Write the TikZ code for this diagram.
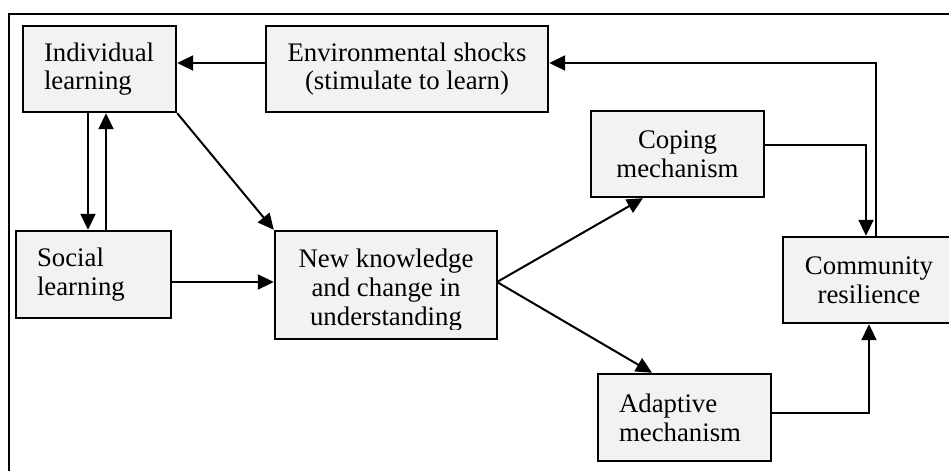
\documentclass[tikz,border=0pt]{standalone}
\usepackage{fontspec}
\setmainfont{Liberation Serif}
\usetikzlibrary{arrows.meta,calc}
\definecolor{boxfill}{HTML}{F2F2F2}
\tikzset{
  box/.style={draw=black, line width=1.2pt, fill=boxfill, inner sep=0pt,
    font=\fontsize{13.4}{14.4}\selectfont},
  ctext/.style={align=center},
  ltext/.style={align=left, inner xsep=10.5pt},
  link/.style={line width=1pt, -{Triangle[length=8pt,width=7.5pt]}},
}
\begin{document}
\begin{tikzpicture}[x=0.5pt,y=-0.5pt]
\useasboundingbox (0,0) rectangle (949,471);
% outer frame, running off the page on the right and at the bottom
\draw[line width=1.1pt] (9,14) rectangle (980,500);

% boxes
\node[box, ltext, text width=55.5pt, minimum height=43pt] (ind) at (99.5,69)
  {Individual\\learning};
\node[box, ctext, minimum width=141pt, minimum height=43pt] (env) at (407,69)
  {Environmental shocks\\(stimulate to learn)};
\node[box, ltext, text width=56.5pt, minimum height=43.5pt] (soc) at (93.5,274.5)
  {Social\\learning};
\node[box, minimum width=111pt, minimum height=54pt] (know) at (386,285) {};
\begin{scope}
  \clip (275,231) rectangle (497,329.5);
  \node[box, draw=none, fill=none, ctext] (knowtext) at (386,290)
    {New knowledge\\and change in\\understanding};
\end{scope}
\node[box, ctext, minimum width=86.5pt, minimum height=43pt] (cope) at (677.5,154)
  {Coping\\mechanism};
\node[box, ctext, minimum width=86pt, minimum height=43pt] (comm) at (869,280)
  {Community\\resilience};
\node[box, ltext, text width=65.5pt, minimum height=43.5pt] (adap) at (684.5,417.5)
  {Adaptive\\mechanism};

% connectors
\coordinate (envin) at ($(env.west)+(0,-6)$);
\draw[link] (envin) -- (envin -| ind.east);
\draw[link] (comm.north -| 876,0) |- ($(env.east)+(0,-6)$);
\draw[link] ($(cope.east)+(0,-9)$) -| (comm.north -| 866,0);
\draw[link] ($(adap.east)+(0,-4.5)$) -| (comm.south -| 869,0);
\draw[link] (ind.south -| 88,0) -- (soc.north -| 88,0);
\draw[link] (soc.north -| 106,0) -- (ind.south -| 106,0);
\draw[link] (ind.south east) -- (know.north west);
\draw[link] (soc.east |- 0,282) -- (know.west |- 0,282);
\coordinate (fork) at (497,282);
\draw[link] (fork) -- (cope.south -| 643,0);
\draw[link] (fork) -- (adap.north -| 652,0);
\end{tikzpicture}
\end{document}
